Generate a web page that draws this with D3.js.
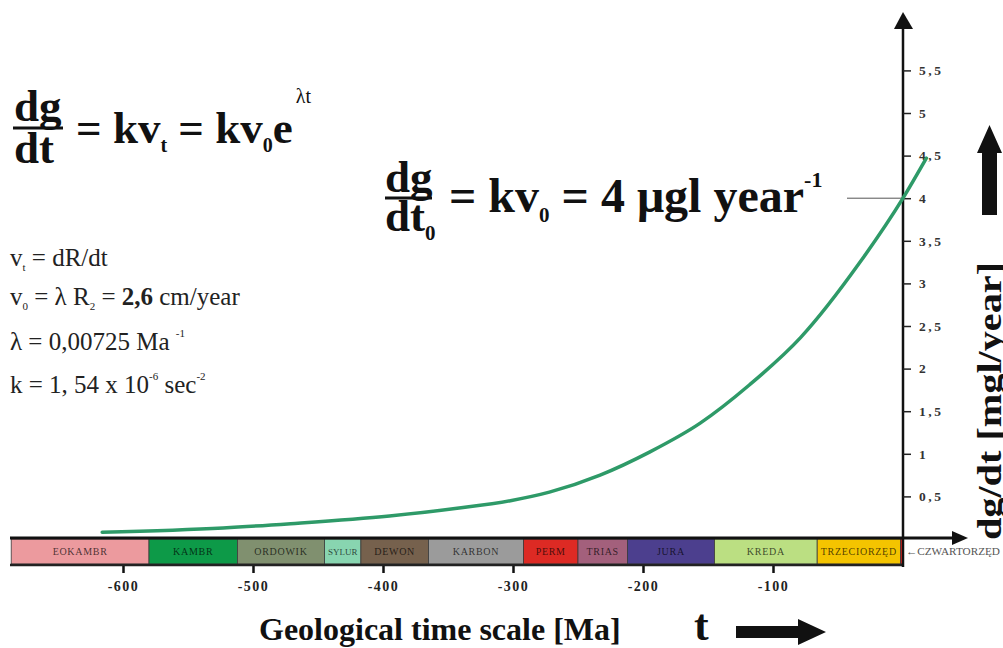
<!DOCTYPE html>
<html>
<head>
<meta charset="utf-8">
<script src="https://cdn.jsdelivr.net/npm/d3@7"></script>
<style>
  html, body { margin: 0; padding: 0; background: #fff; }
  svg { display: block; }
  svg text { font-family: "Liberation Serif", "Times New Roman", serif; }
</style>
</head>
<body>
<svg id="chart" width="1003" height="648"></svg>
<script>
// ---------------- data ----------------
const periods      = ["EOKAMBR","KAMBR","ORDOWIK","SYLUR","DEWON","KARBON","PERM","TRIAS","JURA","KREDA","TRZECIORZĘD","CZWARTORZĘD"];
const periodStart  = [-686, -580, -512, -445, -417, -365, -292, -250, -212, -145, -66, -2];
const periodEnd    = [-580, -512, -445, -417, -365, -292, -250, -212, -145, -66, -2, 0];
const periodColors = ["#ec9a9e","#0d9a48","#80906f","#88d5b0","#76614d","#9b9b9b","#dd2a24","#a3607c","#4c3f8e","#bbdf82","#f4c400","#e0261e"];

const timeMa = [-616, -523, -471, -395, -343, -302, -272, -233, -195, -156, -118, -79, -33, 0, 18];
const dgdt   = [0.08, 0.13, 0.18, 0.27, 0.36, 0.45, 0.55, 0.75, 1.02, 1.36, 1.81, 2.36, 3.25, 4.0, 4.47];

const xTicks = [-600, -500, -400, -300, -200, -100];
const yTicks = [0.5, 1, 1.5, 2, 2.5, 3, 3.5, 4, 4.5, 5, 5.5];

// ---------------- scales ----------------
const svg = d3.select("#chart");
const FONT = '"Liberation Serif", "Times New Roman", serif';

const x = d3.scaleLinear().domain([-700, 0]).range([903 - 910, 903]);
const y = d3.scaleLinear().domain([0, 5.5]).range([539, 70.4]);

const barTop = 539, barBot = 564;

// ---------------- period bar ----------------
const pg = svg.append("g");
pg.selectAll("rect").data(periods).join("rect")
  .attr("x", (d, i) => x(periodStart[i]))
  .attr("y", barTop)
  .attr("width", (d, i) => x(periodEnd[i]) - x(periodStart[i]))
  .attr("height", barBot - barTop)
  .attr("fill", (d, i) => periodColors[i])
  .attr("stroke", "#3a3a3a")
  .attr("stroke-width", 0.8);

pg.selectAll("text.per").data(periods.slice(0, 11)).join("text")
  .attr("class", "per")
  .attr("x", (d, i) => (x(periodStart[i]) + x(periodEnd[i])) / 2)
  .attr("y", 555)
  .attr("text-anchor", "middle")
  .style("font-family", FONT)
  .style("font-size", (d) => d === "SYLUR" ? "9px" : "10px")
  .style("letter-spacing", (d) => d === "SYLUR" ? "0px" : "0.7px")
  .attr("fill", "#000")
  .attr("fill-opacity", 0.7)
  .text(d => d);

svg.append("text")
  .attr("x", 906).attr("y", 555)
  .style("font-family", FONT).style("font-size", "9.5px")
  .attr("textLength", 94).attr("lengthAdjust", "spacingAndGlyphs")
  .attr("fill", "#555")
  .text("←" + periods[11]);

// bar borders / x axis line
svg.append("line").attr("x1", 10).attr("x2", 955).attr("y1", 538).attr("y2", 538)
  .attr("stroke", "#111").attr("stroke-width", 3);
svg.append("path").attr("d", "M952,531 L968,538 L952,545 Z").attr("fill", "#111");
svg.append("line").attr("x1", 10).attr("x2", 903).attr("y1", 565).attr("y2", 565)
  .attr("stroke", "#222").attr("stroke-width", 2.5);

// x axis ticks
const xa = svg.append("g").attr("transform", "translate(0,566)")
  .call(d3.axisBottom(x).tickValues(xTicks).tickSize(7).tickPadding(8).tickFormat(d => String(d)));
xa.attr("font-family", null).attr("font-size", null);
xa.select(".domain").remove();
xa.selectAll(".tick line").attr("stroke", "#111").attr("stroke-width", 2.5);
xa.selectAll(".tick text").style("font-family", FONT).style("font-size", "14px")
  .style("font-weight", "bold").style("letter-spacing", "1.5px").attr("fill", "#222");

// y axis
svg.append("line").attr("x1", 903).attr("x2", 903).attr("y1", 22).attr("y2", 567)
  .attr("stroke", "#111").attr("stroke-width", 2.5);
svg.append("path").attr("d", "M903,12 L913,29 L894,29 Z").attr("fill", "#111");
const ya = svg.append("g").attr("transform", "translate(903,0)")
  .call(d3.axisRight(y).tickValues(yTicks).tickSize(8).tickPadding(8)
    .tickFormat(d => String(d).replace(".", ",")));
ya.attr("font-family", null).attr("font-size", null);
ya.select(".domain").remove();
ya.selectAll(".tick line").attr("stroke", "#222").attr("stroke-width", 1.5);
ya.selectAll(".tick text").style("font-family", FONT).style("font-size", "13.5px")
  .style("font-weight", "bold").style("letter-spacing", "2.5px").attr("fill", "#333");

// leader line to 4
svg.append("line").attr("x1", 847).attr("x2", 903).attr("y1", y(4)).attr("y2", y(4))
  .attr("stroke", "#555").attr("stroke-width", 1);

// ---------------- curve ----------------
const line = d3.line().x((d, i) => x(timeMa[i])).y(d => y(d)).curve(d3.curveMonotoneX);
svg.append("path").datum(dgdt).attr("d", line)
  .attr("fill", "none").attr("stroke", "#2e9a68").attr("stroke-width", 3.5)
  .attr("stroke-linecap", "round");

// ---------------- formula 1 ----------------
const f1 = svg.append("g").attr("font-weight", "bold").attr("fill", "#111");
f1.append("text").attr("x", 14).attr("y", 121).attr("font-size", 45).text("dg");
f1.append("line").attr("x1", 13).attr("x2", 63).attr("y1", 128).attr("y2", 128)
  .attr("stroke", "#111").attr("stroke-width", 3);
f1.append("text").attr("x", 14).attr("y", 163).attr("font-size", 45).text("dt");
const t1 = f1.append("text").attr("x", 76).attr("y", 143).attr("font-size", 45);
t1.append("tspan").text("= kv");
t1.append("tspan").attr("font-size", 20).attr("dy", 9).text("t");
t1.append("tspan").attr("dy", -9).text(" = kv");
t1.append("tspan").attr("font-size", 20).attr("dy", 9).text("0");
t1.append("tspan").attr("dy", -9).text("e");
t1.append("tspan").attr("font-size", 20).attr("font-weight", "normal").attr("dx", 3).attr("dy", -40).text("λt");

// ---------------- formula 2 ----------------
const f2 = svg.append("g").attr("font-weight", "bold").attr("fill", "#111");
f2.append("text").attr("x", 385).attr("y", 192).attr("font-size", 45).text("dg");
f2.append("line").attr("x1", 385).attr("x2", 432).attr("y1", 198).attr("y2", 198)
  .attr("stroke", "#111").attr("stroke-width", 3);
const d2 = f2.append("text").attr("x", 385).attr("y", 231).attr("font-size", 45);
d2.append("tspan").text("dt");
d2.append("tspan").attr("font-size", 21).attr("dy", 9).text("0");
const t2 = f2.append("text").attr("x", 449).attr("y", 212).attr("font-size", 48);
t2.append("tspan").text("= kv");
t2.append("tspan").attr("font-size", 21).attr("dy", 10).text("0");
t2.append("tspan").attr("dy", -10).text(" = 4 μgl year");
t2.append("tspan").attr("font-size", 22).attr("dy", -25).text("-1");

// ---------------- parameter block ----------------
const pb = svg.append("g").attr("font-size", 25).attr("fill", "#222");
const r1 = pb.append("text").attr("x", 10).attr("y", 266);
r1.append("tspan").text("v");
r1.append("tspan").attr("font-size", 11).attr("dy", 5).text("t");
r1.append("tspan").attr("dy", -5).text(" = dR/dt");
const r2 = pb.append("text").attr("x", 10).attr("y", 305);
r2.append("tspan").text("v");
r2.append("tspan").attr("font-size", 11).attr("dy", 5).text("0");
r2.append("tspan").attr("dy", -5).text(" = λ R");
r2.append("tspan").attr("font-size", 11).attr("dy", 5).text("2");
r2.append("tspan").attr("dy", -5).text(" = ");
r2.append("tspan").attr("font-weight", "bold").text("2,6");
r2.append("tspan").text(" cm/year");
const r3 = pb.append("text").attr("x", 10).attr("y", 350);
r3.append("tspan").text("λ = 0,00725 Ma ");
r3.append("tspan").attr("font-size", 11).attr("dy", -13).text("-1");
const r4 = pb.append("text").attr("x", 10).attr("y", 393);
r4.append("tspan").text("k = 1, 54 x 10");
r4.append("tspan").attr("font-size", 11).attr("dy", -13).text("-6");
r4.append("tspan").attr("dy", 13).text(" sec");
r4.append("tspan").attr("font-size", 11).attr("dy", -13).text("-2");

// ---------------- axis titles & arrows ----------------
svg.append("text")
  .attr("transform", "translate(1001,401) rotate(-90)")
  .attr("text-anchor", "middle")
  .attr("font-weight", "bold").attr("font-size", 33)
  .attr("textLength", 278).attr("lengthAdjust", "spacingAndGlyphs")
  .attr("fill", "#111")
  .text("dg/dt [mgl/year]");
svg.append("path")
  .attr("d", "M989.5,125 L1002,153 L997,153 L997,215 L982,215 L982,153 L977,153 Z")
  .attr("fill", "#111");

svg.append("text").attr("x", 259).attr("y", 640)
  .attr("font-weight", "bold").attr("font-size", 32)
  .attr("fill", "#111").text("Geological time scale [Ma]");
svg.append("text").attr("x", 694).attr("y", 640)
  .attr("font-weight", "bold").attr("font-size", 44)
  .attr("fill", "#111").text("t");
svg.append("path")
  .attr("d", "M736,626 L798,626 L798,619 L826,632 L798,645 L798,638 L736,638 Z")
  .attr("fill", "#111");
</script>
</body>
</html>
